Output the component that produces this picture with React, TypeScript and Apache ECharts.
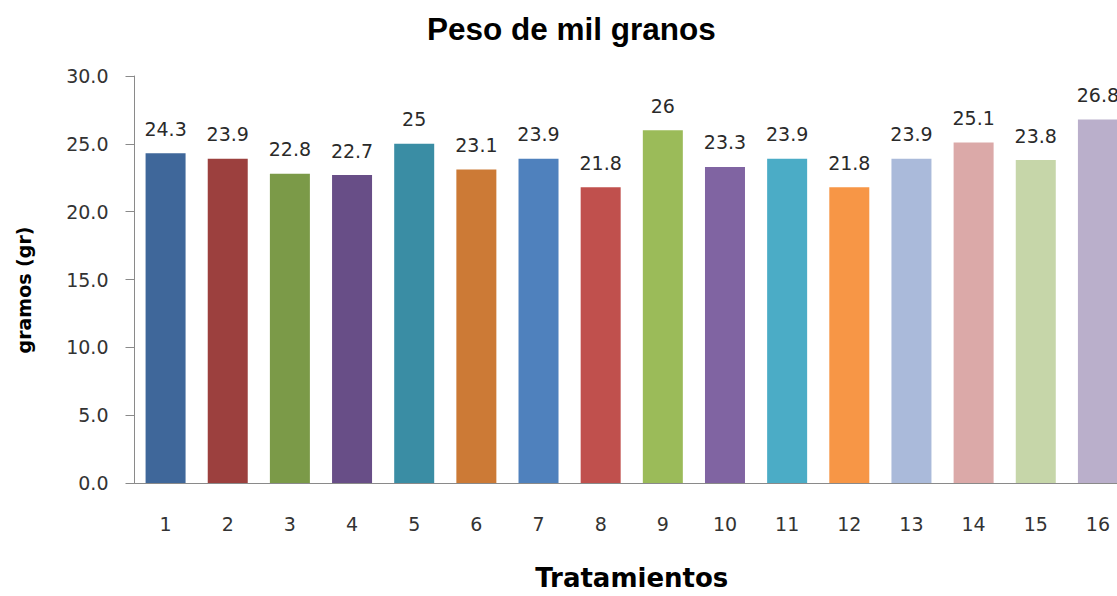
import React, { useEffect, useRef } from "react";
import * as echarts from "echarts";

const categories = ["1", "2", "3", "4", "5", "6", "7", "8", "9", "10", "11", "12", "13", "14", "15", "16"];
const values = [24.3, 23.9, 22.8, 22.7, 25, 23.1, 23.9, 21.8, 26, 23.3, 23.9, 21.8, 23.9, 25.1, 23.8, 26.8];
const barColors = [
  "#3F679A", "#9C403E", "#7B9A48", "#684E87", "#3A8DA4", "#CC7A36",
  "#4F81BD", "#C0504D", "#9BBB59", "#8064A2", "#4BACC6", "#F79646",
  "#AABADA", "#DBA9A8", "#C6D6A9", "#BAAFCB",
];
const yTicks = [0, 5, 10, 15, 20, 25, 30];

export default function App() {
  const ref = useRef<HTMLDivElement>(null);
  useEffect(() => {
    if (!ref.current) return;
    const chart = echarts.init(ref.current, null, { renderer: "svg" });
    chart.setOption({
      animation: false,
      backgroundColor: "#ffffff",
      title: {
        text: "Peso de mil granos",
        left: 422,
        top: 8,
        textStyle: {
          fontFamily: "Liberation Sans",
          fontWeight: "bold",
          fontSize: 31.5,
          color: "#000000",
        },
      },
      grid: { left: 134.5, right: 0, top: 76, bottom: 108, containLabel: false },
      xAxis: {
        type: "category",
        data: categories,
        name: "Tratamientos",
        nameLocation: "middle",
        nameGap: 82,
        nameTextStyle: {
          fontFamily: "DejaVu Sans",
          fontWeight: "bold",
          fontSize: 26,
          color: "#000000",
        },
        axisLine: { lineStyle: { color: "#8a8a8a", width: 1 } },
        axisTick: { show: false },
        axisLabel: {
          margin: 31,
          fontFamily: "DejaVu Sans",
          fontSize: 19,
          color: "#333333",
        },
      },
      yAxis: {
        type: "value",
        min: 0,
        max: 30,
        interval: 5,
        name: "gramos (gr)",
        nameLocation: "middle",
        nameGap: 101,
        nameTextStyle: {
          fontFamily: "DejaVu Sans",
          fontWeight: "bold",
          fontSize: 19,
          color: "#000000",
          padding: [0, 21, 0, 0],
        },
        axisLine: { show: true, lineStyle: { color: "#8a8a8a", width: 1 } },
        axisTick: { show: true, length: 9, lineStyle: { color: "#8a8a8a" } },
        splitLine: { show: false },
        axisLabel: {
          margin: 26,
          fontFamily: "DejaVu Sans",
          fontSize: 19,
          color: "#333333",
          formatter: (v: number) => (yTicks.includes(v) ? v.toFixed(1) : ""),
        },
      },
      series: [
        {
          type: "bar",
          barWidth: 40,
          data: values.map((v, i) => ({ value: v, itemStyle: { color: barColors[i] } })),
          label: {
            show: true,
            position: "top",
            distance: 15,
            fontFamily: "DejaVu Sans",
            fontSize: 19,
            color: "#2a2a2a",
          },
        },
      ],
    });
    return () => chart.dispose();
  }, []);
  return (
    <div style={{ width: 1117, height: 596, overflow: "hidden", position: "absolute", left: 0, top: 0 }}>
      <div ref={ref} style={{ width: 1129, height: 596 }} />
    </div>
  );
}
